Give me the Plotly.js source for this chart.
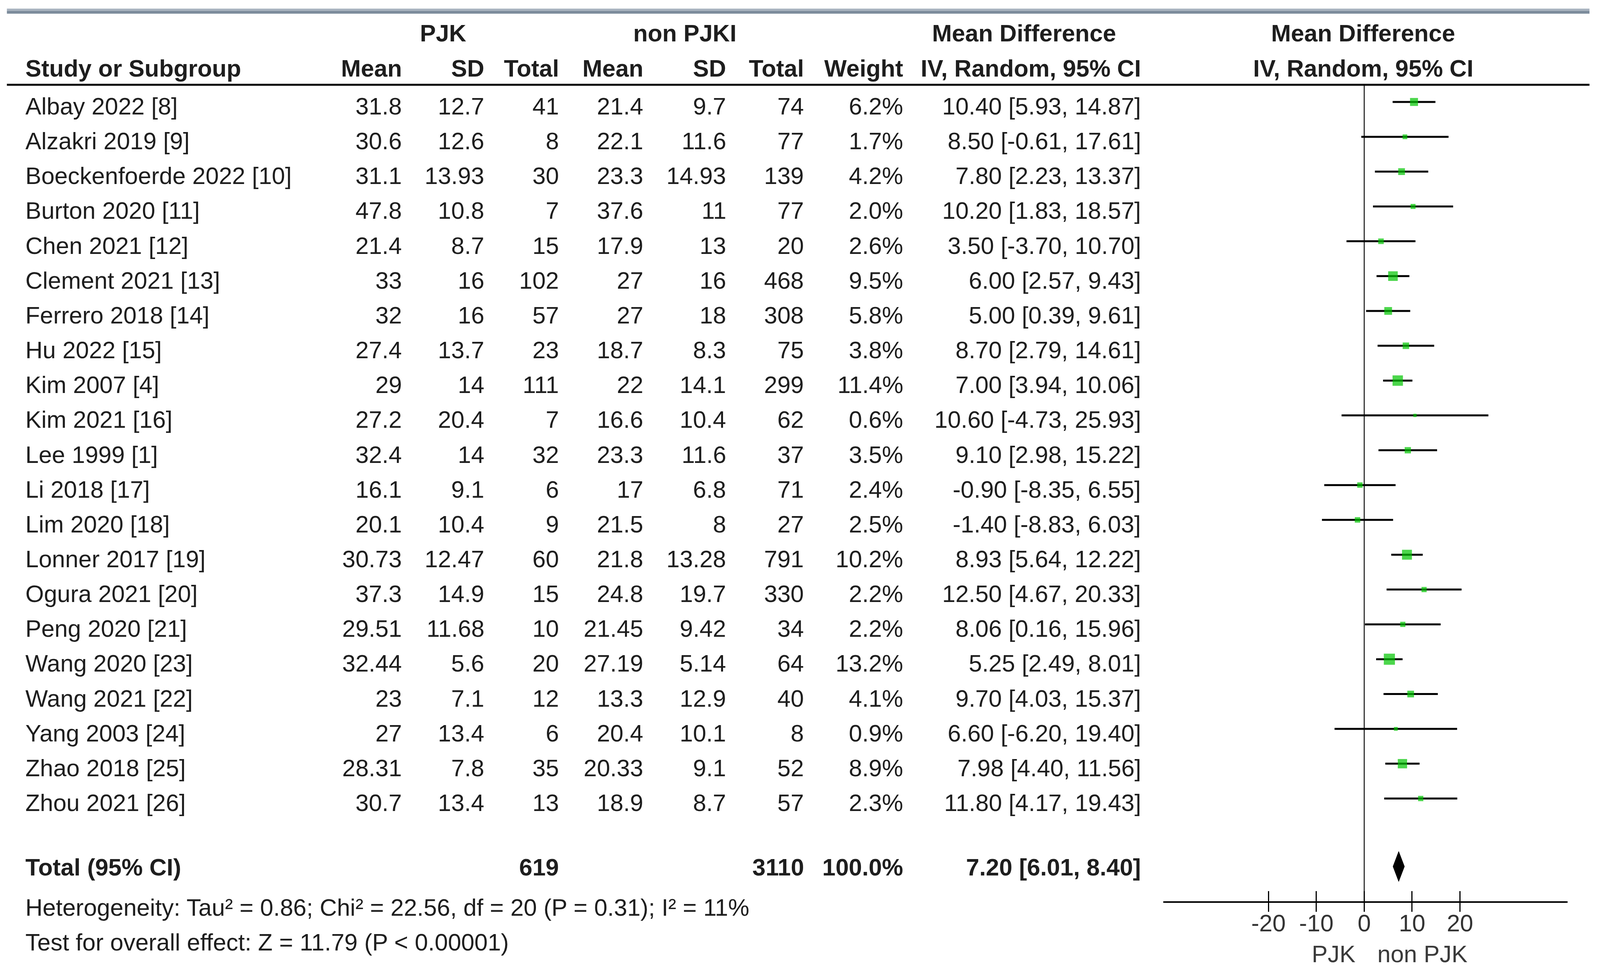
<!DOCTYPE html>
<html>
<head>
<meta charset="utf-8">
<script src="https://cdn.plot.ly/plotly-3.0.1.min.js"></script>
<style>html,body{margin:0;padding:0;background:#fff;overflow:hidden;}</style>
</head>
<body>
<div id="chart"></div>
<script>
// ---------------- data ----------------
const studies = ["Albay 2022 [8]","Alzakri 2019 [9]","Boeckenfoerde 2022 [10]","Burton 2020 [11]","Chen 2021 [12]","Clement 2021 [13]","Ferrero 2018 [14]","Hu 2022 [15]","Kim 2007 [4]","Kim 2021 [16]","Lee 1999 [1]","Li 2018 [17]","Lim 2020 [18]","Lonner 2017 [19]","Ogura 2021 [20]","Peng 2020 [21]","Wang 2020 [23]","Wang 2021 [22]","Yang 2003 [24]","Zhao 2018 [25]","Zhou 2021 [26]"];
const pjkMean = [31.8,30.6,31.1,47.8,21.4,33,32,27.4,29,27.2,32.4,16.1,20.1,30.73,37.3,29.51,32.44,23,27,28.31,30.7];
const pjkSD   = [12.7,12.6,13.93,10.8,8.7,16,16,13.7,14,20.4,14,9.1,10.4,12.47,14.9,11.68,5.6,7.1,13.4,7.8,13.4];
const pjkN    = [41,8,30,7,15,102,57,23,111,7,32,6,9,60,15,10,20,12,6,35,13];
const nonMean = [21.4,22.1,23.3,37.6,17.9,27,27,18.7,22,16.6,23.3,17,21.5,21.8,24.8,21.45,27.19,13.3,20.4,20.33,18.9];
const nonSD   = [9.7,11.6,14.93,11,13,16,18,8.3,14.1,10.4,11.6,6.8,8,13.28,19.7,9.42,5.14,12.9,10.1,9.1,8.7];
const nonN    = [74,77,139,77,20,468,308,75,299,62,37,71,27,791,330,34,64,40,8,52,57];
const weight  = [6.2,1.7,4.2,2.0,2.6,9.5,5.8,3.8,11.4,0.6,3.5,2.4,2.5,10.2,2.2,2.2,13.2,4.1,0.9,8.9,2.3];
const md      = [10.40,8.50,7.80,10.20,3.50,6.00,5.00,8.70,7.00,10.60,9.10,-0.90,-1.40,8.93,12.50,8.06,5.25,9.70,6.60,7.98,11.80];
const ciLo    = [5.93,-0.61,2.23,1.83,-3.70,2.57,0.39,2.79,3.94,-4.73,2.98,-8.35,-8.83,5.64,4.67,0.16,2.49,4.03,-6.20,4.40,4.17];
const ciHi    = [14.87,17.61,13.37,18.57,10.70,9.43,9.61,14.61,10.06,25.93,15.22,6.55,6.03,12.22,20.33,15.96,8.01,15.37,19.40,11.56,19.43];
const totalPjkN = 619;
const totalNonN = 3110;
const totalWeight = 100.0;
const totalMD = 7.20, totalLo = 6.01, totalHi = 8.40;
const heterogeneityText = "Heterogeneity: Tau² = 0.86; Chi² = 22.56, df = 20 (P = 0.31); I² = 11%";
const overallText = "Test for overall effect: Z = 11.79 (P < 0.00001)";
const tickVals = [-20,-10,0,10,20];
const tickLabels = ["-20","-10","0","10","20"];
const leftLabel = "PJK";
const rightLabel = "non PJK";

// ---------------- layout helpers ----------------
// design frame is 4411 x 2506; the page is fitted to the actual viewport width
const W = 4411, H = 2506;
const VW = Math.min(window.innerWidth || W, W);
const SX = VW / W;
document.getElementById("chart").style.width = VW + "px";
document.getElementById("chart").style.height = H + "px";

const ROW0 = 261, PITCH = 89.15;
const ZERO = 3761, SCALE = 13.2;
const AX_L = 3207, AX_R = 4322, AX_Y = 2309;
const rowAt = py => (py - ROW0) / PITCH;
const py2paper = py => 1 - py / H;
const FONT = "Liberation Sans, Arial, sans-serif";
const FS = Math.round(66 * SX);
const TXT = "#1e1e1e";

const fmt2 = v => v.toFixed(2);
const ciStr = (m, l, h) => fmt2(m) + " [" + fmt2(l) + ", " + fmt2(h) + "]";

const ann = [];
function cell(text, xpx, y, anchor, bold, opts) {
  ann.push(Object.assign({
    text: bold ? "<b>" + text + "</b>" : text,
    xref: "x", yref: "y", x: xpx, y: y,
    xanchor: anchor, yanchor: "middle",
    showarrow: false, font: {family: FONT, size: FS, color: TXT}
  }, opts || {}));
}

const h1 = rowAt(85), h2 = rowAt(175);
cell("PJK", 1222, h1, "center", true);
cell("non PJKI", 1888, h1, "center", true);
cell("Mean Difference", 2823, h1, "center", true);
cell("Mean Difference", ZERO - 3, h1, "center", true);
cell("Study or Subgroup", 68, h2, "left", true);
const colRight = {pm: 1110, ps: 1338, pn: 1543, nm: 1776, ns: 2004, nn: 2218, w: 2492, ci: 3148};
cell("Mean", colRight.pm, h2, "right", true);
cell("SD", colRight.ps, h2, "right", true);
cell("Total", colRight.pn, h2, "right", true);
cell("Mean", colRight.nm, h2, "right", true);
cell("SD", colRight.ns, h2, "right", true);
cell("Total", colRight.nn, h2, "right", true);
cell("Weight", colRight.w, h2, "right", true);
cell("IV, Random, 95% CI", colRight.ci, h2, "right", true);
cell("IV, Random, 95% CI", ZERO - 3, h2, "center", true);

const TEXT_SHIFT = {yshift: -11};
studies.forEach((s, i) => {
  cell(s, 68, i, "left", false, TEXT_SHIFT);
  cell(String(pjkMean[i]), colRight.pm, i, "right", false, TEXT_SHIFT);
  cell(String(pjkSD[i]), colRight.ps, i, "right", false, TEXT_SHIFT);
  cell(String(pjkN[i]), colRight.pn, i, "right", false, TEXT_SHIFT);
  cell(String(nonMean[i]), colRight.nm, i, "right", false, TEXT_SHIFT);
  cell(String(nonSD[i]), colRight.ns, i, "right", false, TEXT_SHIFT);
  cell(String(nonN[i]), colRight.nn, i, "right", false, TEXT_SHIFT);
  cell(weight[i].toFixed(1) + "%", colRight.w, i, "right", false, TEXT_SHIFT);
  cell(ciStr(md[i], ciLo[i], ciHi[i]), colRight.ci, i, "right", false, TEXT_SHIFT);
});

const tRow = rowAt(2220);
cell("Total (95% CI)", 68, tRow, "left", true);
cell(String(totalPjkN), colRight.pn, tRow, "right", true);
cell(String(totalNonN), colRight.nn, tRow, "right", true);
cell(totalWeight.toFixed(1) + "%", colRight.w, tRow, "right", true);
cell(ciStr(totalMD, totalLo, totalHi), colRight.ci, tRow, "right", true);
cell(heterogeneityText, 68, rowAt(2323), "left", false);
cell(overallText, 68, rowAt(2412), "left", false);

ann.push({text: leftLabel, xref: "x2", yref: "y", x: 0, xshift: -22 * SX, y: rowAt(2442), xanchor: "right", yanchor: "middle", showarrow: false, font: {family: FONT, size: FS, color: "#3a3a3a"}});
ann.push({text: rightLabel, xref: "x2", yref: "y", x: 0, xshift: 34 * SX, y: rowAt(2442), xanchor: "left", yanchor: "middle", showarrow: false, font: {family: FONT, size: FS, color: "#3a3a3a"}});

// ---------------- traces ----------------
const rows = studies.map((_, i) => i);
const studyTrace = {
  type: "scatter", mode: "markers", xaxis: "x2", yaxis: "y",
  x: md, y: rows,
  marker: {symbol: "square", color: "#00c400", size: weight.map(w => 3 + 7 * Math.sqrt(w)), line: {width: 0}},
  error_x: {type: "data", symmetric: false,
            array: ciHi.map((h, i) => h - md[i]),
            arrayminus: ciLo.map((l, i) => md[i] - l),
            color: "#000", thickness: 5, width: 0},
  hoverinfo: "skip", showlegend: false
};
const dRow = rowAt(2218), dH = 38.5 / PITCH;
const diamond = {
  type: "scatter", mode: "lines", xaxis: "x2", yaxis: "y",
  x: [totalLo, totalMD, totalHi, totalMD, totalLo],
  y: [dRow, dRow - dH, dRow, dRow + dH, dRow],
  fill: "toself", fillcolor: "#000", line: {color: "#000", width: 1},
  hoverinfo: "skip", showlegend: false
};
const dummyOuter = {type: "scatter", mode: "markers", xaxis: "x3", yaxis: "y", x: [0], y: [0], marker: {opacity: 0}, hoverinfo: "skip", showlegend: false};
const dummyTable = {type: "scatter", mode: "markers", xaxis: "x", yaxis: "y", x: [0], y: [0], marker: {opacity: 0}, hoverinfo: "skip", showlegend: false};

const fRange = [(AX_L - ZERO) / SCALE, (AX_R - ZERO) / SCALE];

const layout = {
  width: VW, height: H,
  margin: {l: 0, r: 0, t: 0, b: 0, pad: 0},
  paper_bgcolor: "#fff", plot_bgcolor: "rgba(0,0,0,0)",
  showlegend: false,
  font: {family: FONT, size: FS, color: TXT},
  xaxis: {domain: [0, 1], range: [0, W], visible: false, fixedrange: true},
  yaxis: {domain: [0, 1], range: [rowAt(H), rowAt(0)], visible: false, fixedrange: true},
  xaxis2: {domain: [AX_L / W, AX_R / W], range: fRange, anchor: "free", position: 1 - AX_Y / H,
           showline: true, linecolor: "#000", linewidth: 4,
           ticks: "inside", ticklen: 26, tickwidth: 3, tickcolor: "#000",
           tickvals: tickVals, ticktext: tickLabels,
           tickfont: {family: FONT, size: FS, color: "#333"},
           showgrid: false, zeroline: false, fixedrange: true},
  xaxis3: {overlaying: "x2", range: fRange, anchor: "free", position: 1 - AX_Y / H,
           showline: false, ticks: "outside", ticklen: 24, tickwidth: 3, tickcolor: "#000",
           tickvals: tickVals, showticklabels: false,
           showgrid: false, zeroline: false, fixedrange: true},
  shapes: [
    {type: "rect", xref: "x", yref: "paper", x0: 19, x1: 4382, y0: py2paper(22), y1: py2paper(28), fillcolor: "#a9b4c0", line: {width: 0}},
    {type: "rect", xref: "x", yref: "paper", x0: 19, x1: 4382, y0: py2paper(28), y1: py2paper(35), fillcolor: "#7d8c9c", line: {width: 0}},
    {type: "line", xref: "x", yref: "paper", x0: 19, x1: 4382, y0: py2paper(217), y1: py2paper(217), line: {color: "#000", width: 5}},
    {type: "line", xref: "x2", yref: "paper", x0: 0, x1: 0, y0: py2paper(217), y1: py2paper(AX_Y), line: {color: "#333", width: 3}, layer: "below"}
  ],
  annotations: ann
};

Plotly.newPlot("chart", [dummyTable, studyTrace, diamond, dummyOuter], layout, {staticPlot: true, displayModeBar: false});
</script>
</body>
</html>
